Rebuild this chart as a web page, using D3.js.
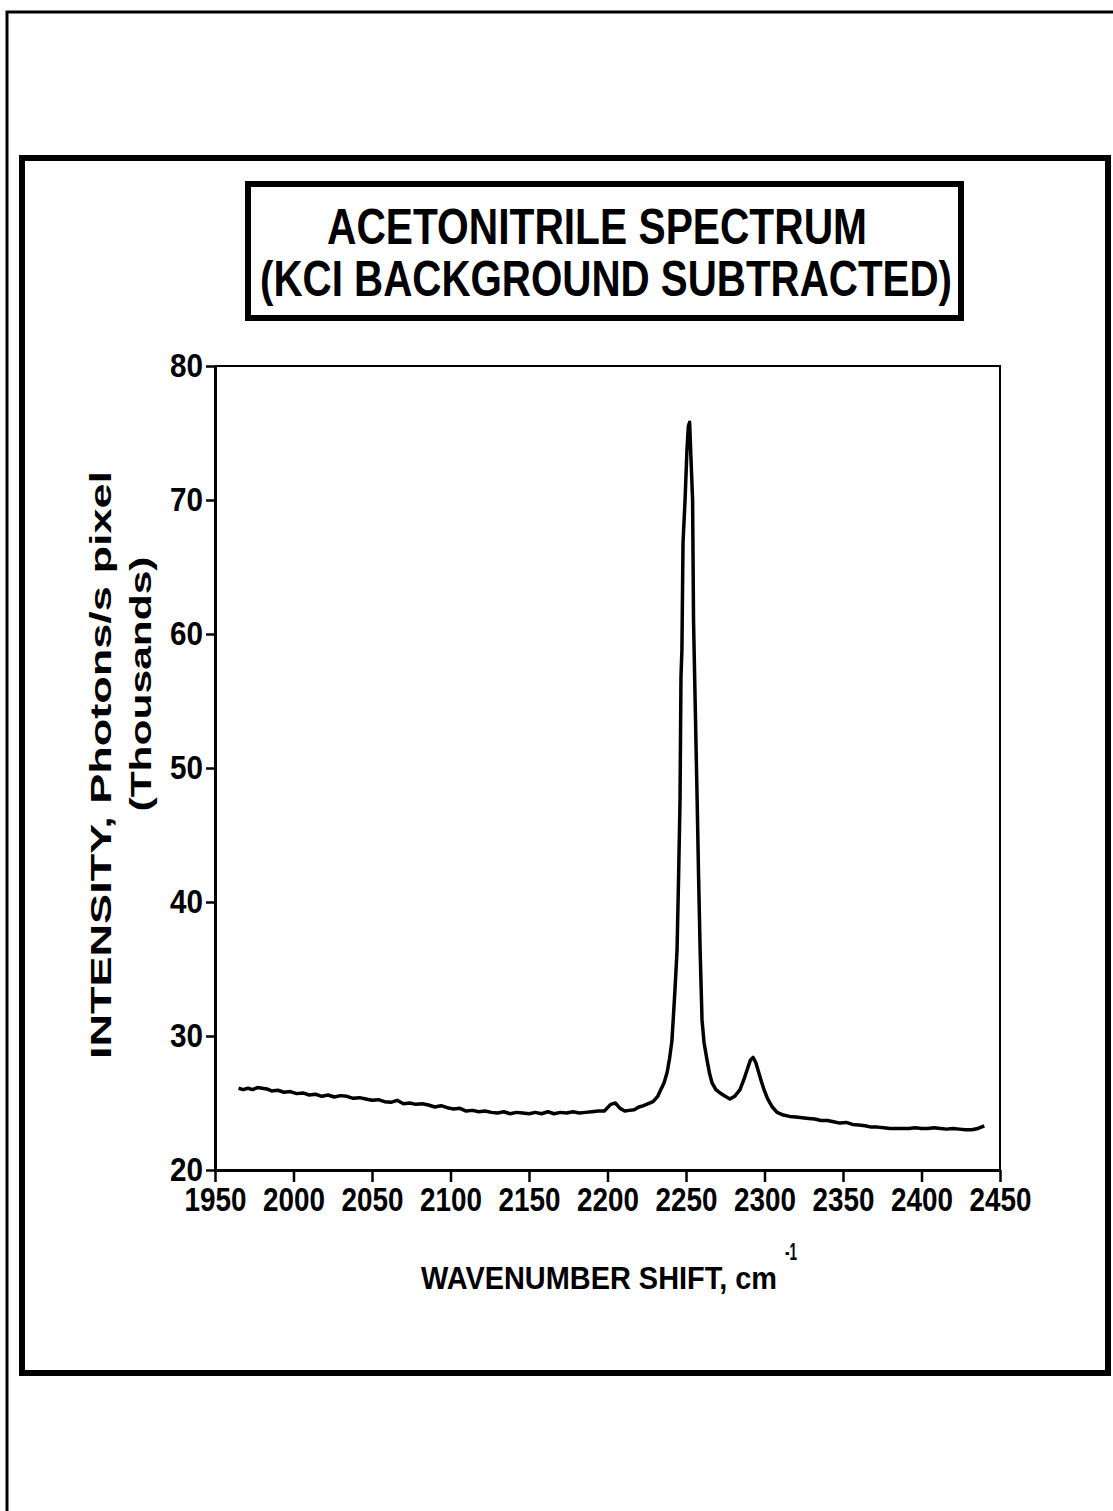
<!DOCTYPE html>
<html>
<head>
<meta charset="utf-8">
<script src="https://cdn.jsdelivr.net/npm/d3@7"></script>
<style>
  body { margin: 0; background: #fff; }
  svg { display: block; }
</style>
</head>
<body>
<div id="chart"></div>
<script>
// spektar acetonitrila, vrijednosti ocitane sa slike (tisuce fotona/s po pikselu)
const wavenumbers = [
  1965, 1968, 1971, 1974, 1977, 1980, 1983, 1986, 1990, 1994, 1998, 2002, 2006, 2010, 2014, 2018,
  2022, 2026, 2030, 2034, 2038, 2042, 2046, 2050, 2054, 2058, 2062, 2066, 2070, 2074, 2078, 2082,
  2086, 2090, 2094, 2098, 2102, 2106, 2110, 2114, 2118, 2122, 2126, 2130, 2134, 2138, 2142, 2146,
  2150, 2154, 2158, 2162, 2166, 2170, 2174, 2178, 2182, 2186, 2190, 2194, 2198, 2202, 2205, 2208,
  2211, 2214, 2217, 2220, 2223, 2226, 2229, 2232, 2234, 2236, 2238, 2239.5, 2241, 2242, 2243, 2244.3,
  2245.3, 2246.2, 2246.8, 2247.4, 2248.1, 2249.4, 2250.6, 2251.5, 2252.3, 2253.2, 2254.2, 2254.8, 2255.8, 2257.1, 2258, 2259,
  2260.2, 2261.5, 2263.4, 2265, 2266.6, 2269, 2271.7, 2275, 2278, 2281, 2284.4, 2287, 2289, 2291, 2292.7, 2294.5,
  2296, 2298, 2300, 2302, 2305, 2308, 2312, 2316, 2320, 2324, 2328, 2332, 2336, 2340, 2344, 2348,
  2352, 2356, 2360, 2364, 2368, 2372, 2376, 2380, 2384, 2388, 2392, 2396, 2400, 2404, 2408, 2412,
  2416, 2420, 2424, 2428, 2432, 2436, 2440
];
const intensity = [
  26.1, 26.0, 26.1, 26.0, 26.15, 26.1, 26.05, 25.9, 25.95, 25.8, 25.85, 25.7, 25.75, 25.6, 25.65, 25.5,
  25.6, 25.45, 25.55, 25.5, 25.35, 25.4, 25.3, 25.2, 25.25, 25.1, 25.05, 25.2, 24.95, 25.0, 24.9, 24.95,
  24.85, 24.7, 24.8, 24.65, 24.55, 24.6, 24.4, 24.45, 24.35, 24.4, 24.3, 24.25, 24.35, 24.2, 24.3, 24.25,
  24.2, 24.3, 24.2, 24.35, 24.2, 24.3, 24.25, 24.35, 24.25, 24.3, 24.35, 24.4, 24.4, 24.9, 25.0, 24.6,
  24.4, 24.45, 24.5, 24.7, 24.8, 24.95, 25.1, 25.5, 26.0, 26.5, 27.3, 28.3, 29.6, 31.5, 33.5, 36.4,
  42.0, 47.6, 56.8, 58.8, 66.8, 70.0, 73.7, 75.5, 75.8, 73.0, 70.0, 61.0, 55.1, 47.6, 42.0, 36.4,
  31.2, 29.5, 28.2, 27.2, 26.5, 26.0, 25.75, 25.5, 25.3, 25.5, 26.0, 26.8, 27.5, 28.2, 28.4, 28.0,
  27.4, 26.6, 25.9, 25.3, 24.7, 24.3, 24.1, 24.0, 23.95, 23.9, 23.85, 23.8, 23.7, 23.7, 23.6, 23.5,
  23.55, 23.4, 23.35, 23.3, 23.2, 23.2, 23.15, 23.1, 23.1, 23.1, 23.1, 23.15, 23.1, 23.1, 23.15, 23.1,
  23.05, 23.1, 23.05, 23.0, 23.0, 23.1, 23.3
];
const xTicks = [1950, 2000, 2050, 2100, 2150, 2200, 2250, 2300, 2350, 2400, 2450];
const yTicks = [20, 30, 40, 50, 60, 70, 80];
const titleLines = ["ACETONITRILE SPECTRUM", "(KCI BACKGROUND SUBTRACTED)"];

const width = 1113, height = 1511;
const plot = { left: 215, right: 1000, top: 366, bottom: 1170 };
const font = "Liberation Sans, Arial, sans-serif";

const svg = d3.select("#chart").append("svg")
  .attr("width", width)
  .attr("height", height)
  .attr("font-family", font)
  .attr("font-weight", "bold");

// vanjski okvir stranice
svg.append("path")
  .attr("d", "M7,1511 L7,12 L1113,12")
  .attr("fill", "none")
  .attr("stroke", "#000")
  .attr("stroke-width", 3);

// okvir grafa
svg.append("rect")
  .attr("x", 22).attr("y", 158)
  .attr("width", 1086).attr("height", 1215)
  .attr("fill", "none")
  .attr("stroke", "#000")
  .attr("stroke-width", 6);

// naslov u okviru
svg.append("rect")
  .attr("x", 248).attr("y", 184)
  .attr("width", 713).attr("height", 134)
  .attr("fill", "none")
  .attr("stroke", "#000")
  .attr("stroke-width", 6);

svg.selectAll(".title")
  .data(titleLines)
  .enter()
  .append("text")
  .attr("class", "title")
  .attr("x", (d, i) => i === 0 ? 597 : 606)
  .attr("y", (d, i) => 244 + i * 52)
  .attr("text-anchor", "middle")
  .attr("font-size", 50)
  .attr("textLength", (d, i) => i === 0 ? 540 : 692)
  .attr("lengthAdjust", "spacingAndGlyphs")
  .text(d => d);

const x = d3.scaleLinear().domain([1950, 2450]).range([plot.left, plot.right]);
const y = d3.scaleLinear().domain([20, 80]).range([plot.bottom, plot.top]);

// gornja i desna linija grafa
svg.append("path")
  .attr("d", `M${x(1950)},${y(80)} L${x(2450)},${y(80)} L${x(2450)},${y(20)}`)
  .attr("fill", "none")
  .attr("stroke", "#000")
  .attr("stroke-width", 2);

const xAxis = svg.append("g")
  .attr("transform", "translate(0," + plot.bottom + ")")
  .call(d3.axisBottom(x).tickValues(xTicks).tickSize(12).tickSizeOuter(0).tickPadding(5).tickFormat(d3.format("d")));

const yAxis = svg.append("g")
  .attr("transform", "translate(" + plot.left + ",0)")
  .call(d3.axisLeft(y).tickValues(yTicks).tickSize(9).tickSizeOuter(0).tickPadding(3));

[xAxis, yAxis].forEach(a => {
  a.attr("font-family", font).attr("font-weight", "bold");
  a.select(".domain").attr("stroke-width", 3);
  a.selectAll(".tick line").attr("stroke-width", 2.5);
  a.selectAll(".tick text")
    .attr("font-size", 34)
    .attr("fill", "#000")
    .attr("lengthAdjust", "spacingAndGlyphs");
});
xAxis.selectAll(".tick text").attr("dy", "0.72em").attr("textLength", 62);
yAxis.selectAll(".tick text").attr("textLength", 33);

// spektar
const points = wavenumbers.map((w, i) => [w, intensity[i]]);
svg.append("path")
  .datum(points)
  .attr("fill", "none")
  .attr("stroke", "#000")
  .attr("stroke-width", 3.5)
  .attr("stroke-linejoin", "round")
  .attr("d", d3.line().x(d => x(d[0])).y(d => y(d[1])));

// naziv x osi
svg.append("text")
  .attr("x", 421)
  .attr("y", 1289)
  .attr("font-size", 32)
  .attr("textLength", 356)
  .attr("lengthAdjust", "spacingAndGlyphs")
  .text("WAVENUMBER SHIFT, cm");
svg.append("text")
  .attr("x", 785)
  .attr("y", 1260)
  .attr("font-size", 24)
  .attr("textLength", 12)
  .attr("lengthAdjust", "spacingAndGlyphs")
  .text("-1");

// naziv y osi
svg.append("text")
  .attr("transform", "translate(111,765) rotate(-90)")
  .attr("text-anchor", "middle")
  .attr("font-size", 30)
  .attr("textLength", 588)
  .attr("lengthAdjust", "spacingAndGlyphs")
  .text("INTENSITY, Photons/s pixel");

svg.append("text")
  .attr("transform", "translate(151,684) rotate(-90)")
  .attr("text-anchor", "middle")
  .attr("font-size", 30)
  .attr("textLength", 255)
  .attr("lengthAdjust", "spacingAndGlyphs")
  .text("(Thousands)");
</script>
</body>
</html>
